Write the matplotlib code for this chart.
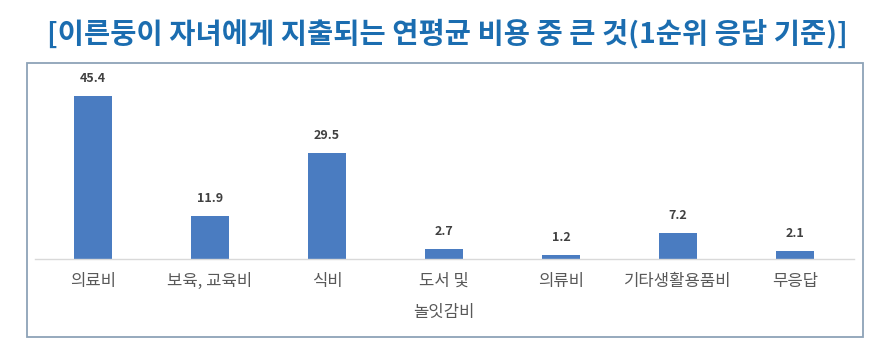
import matplotlib
matplotlib.use("Agg")
import matplotlib.pyplot as plt
from matplotlib.patches import Rectangle

plt.rcParams['font.family'] = ['Noto Sans CJK KR', 'DejaVu Sans']

title = "[이른둥이 자녀에게 지출되는 연평균 비용 중 큰 것(1순위 응답 기준)]"
categories = ["의료비", "보육, 교육비", "식비", "도서 및\n놀잇감비", "의류비", "기타생활용품비", "무응답"]
values = [45.4, 11.9, 29.5, 2.7, 1.2, 7.2, 2.1]

W, H = 889, 363
fig = plt.figure(figsize=(W / 100, H / 100), dpi=100)
fig.patch.set_facecolor("white")

# outer frame box
fig.patches.append(Rectangle((27 / W, 1 - 337 / H), (863 - 27) / W, (337 - 63) / H,
                             transform=fig.transFigure, fill=False,
                             edgecolor="#8DA3B8", linewidth=1.3))

fig.text(447 / W, 1 - 33 / H, title, ha="center", va="center",
         fontsize=20.5, fontweight="bold", color="#1B6DB0")

ax_left, ax_right = 34.5, 853.5
ax_bottom, ax_top = 259, 79.5
ax = fig.add_axes([ax_left / W, 1 - ax_bottom / H, (ax_right - ax_left) / W, (ax_bottom - ax_top) / H])
x = list(range(len(categories)))
bars = ax.bar(x, values, width=0.32, color="#4A7CC1")
ax.set_xlim(-0.5, len(categories) - 0.5)
ax.set_ylim(0, 50)
for s in ["top", "right", "left"]:
    ax.spines[s].set_visible(False)
ax.spines["bottom"].set_color("#D9D9D9")
ax.spines["bottom"].set_linewidth(1)
ax.set_yticks([])
ax.set_xticks(x)
ax.set_xticklabels(categories, fontsize=12, color="#595959", linespacing=2.1)
ax.tick_params(axis="x", length=0, pad=10)
for xi, v in zip(x, values):
    ax.annotate(f"{v}", (xi, v), xytext=(0, 8), textcoords="offset points",
                ha="center", va="bottom", fontsize=9, fontweight="bold", color="#404040")
ax.set_facecolor("none")

fig.savefig("out.png", dpi=100, facecolor="white")
